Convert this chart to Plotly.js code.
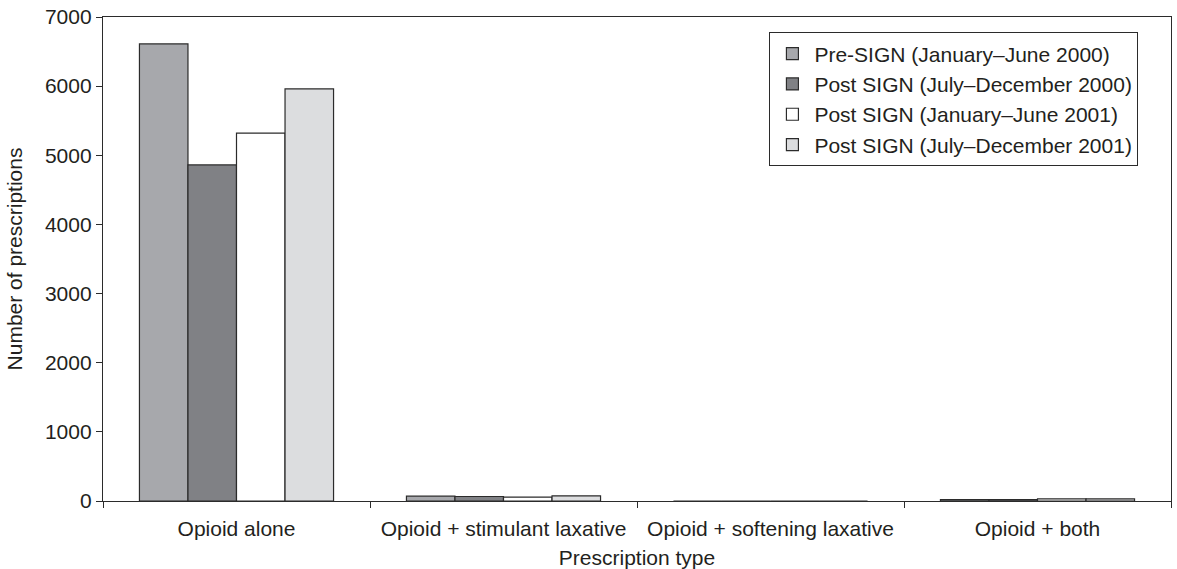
<!DOCTYPE html>
<html>
<head>
<meta charset="utf-8">
<script src="https://cdn.plot.ly/plotly-3.0.1.min.js"></script>
<style>html,body{margin:0;padding:0;background:#fff;}#chart{width:1177px;height:569px;}</style>
</head>
<body>
<div id="chart"></div>
<script>
const categories = ["Opioid alone", "Opioid + stimulant laxative", "Opioid + softening laxative", "Opioid + both"];
const seriesNames = ["Pre-SIGN (January\u2013June 2000)", "Post SIGN (July\u2013December 2000)", "Post SIGN (January\u2013June 2001)", "Post SIGN (July\u2013December 2001)"];
const preSign2000H1 = [6610, 70, 0, 20];
const postSign2000H2 = [4860, 65, 0, 20];
const postSign2001H1 = [5320, 55, 0, 30];
const postSign2001H2 = [5960, 75, 0, 30];
const seriesValues = [preSign2000H1, postSign2000H2, postSign2001H1, postSign2001H2];
const colors = ["#a7a8ac", "#808185", "#ffffff", "#dcdddf"];

const font = {family: "Liberation Sans, Arial, sans-serif", size: 21, color: "#231f20"};

const traces = seriesValues.map((vals, i) => ({
  type: "bar",
  name: seriesNames[i],
  x: categories,
  y: vals,
  marker: {color: colors[i], line: {color: "#2b2b2b", width: 1.2}},
  hoverinfo: "x+y"
}));

const layout = {
  width: 1177,
  height: 569,
  margin: {l: 103, r: 6, t: 17, b: 68},
  paper_bgcolor: "#fff",
  plot_bgcolor: "#fff",
  font: font,
  barmode: "group",
  bargap: 0.273,
  bargroupgap: 0,
  showlegend: true,
  legend: {
    x: 0.624, y: 0.968, xanchor: "left", yanchor: "top",
    bordercolor: "#2b2b2b", borderwidth: 1,
    bgcolor: "#fff",
    font: font,
    traceorder: "normal",
    itemwidth: 34
  },
  xaxis: {
    type: "category",
    automargin: false,
    showline: true, linecolor: "#2b2b2b", linewidth: 1.2, mirror: true,
    ticks: "outside", ticklen: 6, tickcolor: "#2b2b2b", tickson: "boundaries",
    ticklabelstandoff: 9,
    showgrid: false, zeroline: false,
    tickfont: font,
    title: {text: "Prescription type", font: font, standoff: 10}
  },
  yaxis: {
    range: [0, 7000],
    automargin: false,
    tickvals: [0, 1000, 2000, 3000, 4000, 5000, 6000, 7000],
    ticktext: ["0", "1000", "2000", "3000", "4000", "5000", "6000", "7000"],
    showline: true, linecolor: "#2b2b2b", linewidth: 1.2, mirror: true,
    ticks: "outside", ticklen: 6, tickcolor: "#2b2b2b",
    showgrid: false, zeroline: false,
    tickfont: font,
    title: {text: "Number of prescriptions", font: font, standoff: 16}
  }
};

Plotly.newPlot("chart", traces, layout, {displayModeBar: false, staticPlot: true});
</script>
</body>
</html>
